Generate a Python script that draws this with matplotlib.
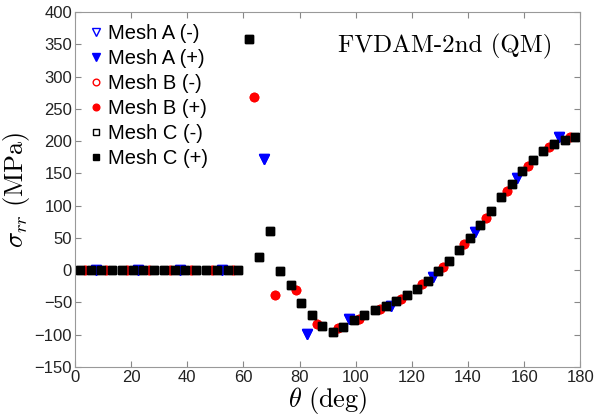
import numpy as np
import matplotlib
matplotlib.use('Agg')
from matplotlib import pyplot as plt

plt.rcParams['mathtext.fontset'] = 'cm'
plt.rcParams['font.family'] = ['Liberation Sans', 'DejaVu Sans']

# Mesh A: 12 cells, Mesh B: 24 cells, Mesh C: 48 cells over 0-180 deg
theta_a = [7.5, 22.5, 37.5, 52.5, 67.5, 82.5, 97.5, 112.5, 127.5, 142.5, 157.5, 172.5]
sig_a = [0, 0, 0, 0, 173, -99, -75, -56, -11, 59, 143, 206]

theta_b = [3.75, 11.25, 18.75, 26.25, 33.75, 41.25, 48.75, 56.25,
           63.75, 71.25, 78.75, 86.25, 93.75, 101.25, 108.75, 116.25,
           123.75, 131.25, 138.75, 146.25, 153.75, 161.25, 168.75, 176.25]
sig_b = [0, 0, 0, 0, 0, 0, 0, 0,
         269, -38, -30, -84, -90, -75, -60, -44,
         -22, 5, 40, 81, 123, 162, 191, 207]

theta_c = [1.875, 5.625, 9.375, 13.125, 16.875, 20.625, 24.375, 28.125,
           31.875, 35.625, 39.375, 43.125, 46.875, 50.625, 54.375, 58.125,
           61.875, 65.625, 69.375, 73.125, 76.875, 80.625, 84.375, 88.125,
           91.875, 95.625, 99.375, 103.125, 106.875, 110.625, 114.375, 118.125,
           121.875, 125.625, 129.375, 133.125, 136.875, 140.625, 144.375, 148.125,
           151.875, 155.625, 159.375, 163.125, 166.875, 170.625, 174.375, 178.125]
sig_c = [0, 0, 0, 0, 0, 0, 0, 0,
         0, 0, 0, 0, 0, 0, 0, 0,
         359, 20, 61, -2, -23, -51, -70, -86,
         -96, -88, -77, -69, -62, -55, -47, -39,
         -29, -16, -2, 14, 31, 50, 70, 92,
         113, 134, 153, 170, 184, 195, 201, 206]

fig = plt.figure(figsize=(5.94, 4.17), dpi=100)
ax = fig.add_axes([0.126, 0.12, 0.851, 0.851])

ax.plot(theta_a, sig_a, 'v', ls='none', mfc='none', mec='blue', ms=7, label='Mesh A (-)')
ax.plot(theta_a, sig_a, 'v', ls='none', color='blue', ms=7, label='Mesh A (+)')
ax.plot(theta_b, sig_b, 'o', ls='none', mfc='none', mec='red', ms=6, label='Mesh B (-)')
ax.plot(theta_b, sig_b, 'o', ls='none', color='red', ms=6, label='Mesh B (+)')
ax.plot(theta_c, sig_c, 's', ls='none', mfc='none', mec='black', ms=6, label='Mesh C (-)')
ax.plot(theta_c, sig_c, 's', ls='none', color='black', ms=6, label='Mesh C (+)')

ax.set_xlim(0, 180)
ax.set_ylim(-150, 400)
ax.set_xticks(np.arange(0, 181, 20))
ax.set_yticks(np.arange(-150, 401, 50))
ax.tick_params(direction='in', top=True, right=True, labelsize=12, length=4,
               color='#888888', labelcolor='#222222', pad=2)
for s in ax.spines.values():
    s.set_color('#999999')

ax.set_xlabel(r'$\theta\ \mathrm{(deg)}$', fontsize=19, labelpad=0)
ax.set_ylabel(r'$\sigma_{rr}\ \mathrm{(MPa)}$', fontsize=19, labelpad=2)

ax.text(0.733, 0.904, 'FVDAM-2nd (QM)', transform=ax.transAxes, ha='center', va='center',
        family='cmr10', fontsize=18)

ax.legend(loc='upper left', bbox_to_anchor=(0.026, 0.966), frameon=False, fontsize=14.5,
          handletextpad=0.2, handlelength=0.8, labelspacing=0.3, borderaxespad=0,
          borderpad=0, markerscale=0.8)

fig.savefig('out.png', dpi=100)
